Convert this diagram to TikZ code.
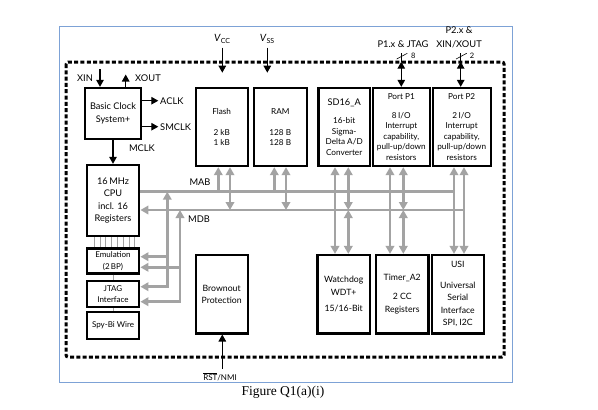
\documentclass[tikz,border=0pt]{standalone}
\usepackage{fontspec}
\setmainfont{Lato}
\newfontfamily\capfont{Liberation Serif}
\usetikzlibrary{calc,arrows.meta}
\definecolor{busgray}{HTML}{A3A3A3}
\definecolor{frameblue}{HTML}{7DA2D6}
\tikzset{
  bt/.tip={Triangle[length=8pt,width=8.5pt]},
  sg/.tip={Triangle[length=7pt,width=7.5pt]},
  blk/.style={draw,line width=2.3pt,align=center,inner sep=0pt,font=\fontsize{8.2}{10.5}\selectfont},
  bus/.style={draw=busgray,line width=2.6pt},
  sig/.style={line width=1.2pt,-sg},
  lbl/.style={font=\fontsize{9.3}{10}\selectfont,inner sep=0pt},
}

\begin{document}
\begin{tikzpicture}[x=1pt,y=-1pt]
  \useasboundingbox (0,0) rectangle (598,410);
  \draw[frameblue,line width=0.9pt] (59,26) rectangle (512,382);
  \draw[line width=3pt,dash pattern=on 4pt off 2.3pt,rounded corners=2pt] (66,62) rectangle (504,357);

  % left column
  \node[blk,minimum width=56,minimum height=51,font=\fontsize{9.2}{13}\selectfont] (clk) at (113,113.5) {Basic Clock\\System+};
  \node[blk,minimum width=52.5,minimum height=71,font=\fontsize{9.2}{12.5}\selectfont] (cpu) at (113,200.5) {16\,MHz\\CPU\\incl. 16\\Registers};
  \node[blk,minimum width=52.5,minimum height=25,font=\fontsize{8}{11.5}\selectfont] (emu) at (113,261) {Emulation\\(2\,BP)};
  \node[blk,minimum width=52.5,minimum height=25.7,font=\fontsize{8}{11}\selectfont] (jtag) at (113,294) {JTAG\\Interface};
  \node[blk,minimum width=52.5,minimum height=27.6,font=\fontsize{8}{11}\selectfont] (spy) at (113,325.5) {Spy-Bi Wire};

  % top row
  \node[blk,minimum width=52,minimum height=78] (flash) at (221.7,127) {Flash\\ \\2 kB\\1 kB};
  \node[blk,minimum width=52.7,minimum height=78] (ram) at (280.3,127) {RAM\\ \\128 B\\128 B};
  \node[blk,minimum width=51.7,minimum height=78] (sd) at (344.2,127) {{\fontsize{9.2}{10.5}\selectfont SD16\_A}\\[8pt]16-bit\\Sigma-\\Delta A/D\\Converter};
  \node[blk,minimum width=57.3,minimum height=78] (p1) at (401.3,127) {Port P1\\[8pt]8\,I/O\\Interrupt\\capability,\\pull-up/down\\resistors};
  \node[blk,minimum width=58,minimum height=78] (p2) at (461.7,127) {Port P2\\[8pt]2\,I/O\\Interrupt\\capability,\\pull-up/down\\resistors};

  % bottom row
  \node[blk,minimum width=52,minimum height=78.3,font=\fontsize{8.7}{12.5}\selectfont] (bor) at (221.7,294.2) {Brownout\\Protection};
  \node[blk,minimum width=52.7,minimum height=78.3,font=\fontsize{8.7}{13}\selectfont] (wdt) at (343.7,294.2) {Watchdog\\WDT+\\[3pt]15/16-Bit};
  \node[blk,minimum width=52.3,minimum height=78.3,font=\fontsize{8.7}{13}\selectfont] (tmr) at (402.2,294.2) {Timer\_A2\\[6pt]2 CC\\Registers};
  \node[blk,minimum width=52.3,minimum height=78.3,font=\fontsize{8.7}{12.5}\selectfont] (usi) at (457.8,294.2) {USI\\[8pt]Universal\\Serial\\Interface\\SPI, I2C};

  % buses
  \coordinate (mab) at (139,191.7);
  \coordinate (mabend) at (454,191.7);
  \coordinate (mdb) at (139,210);
  \coordinate (mdbend) at (464,210);
  \draw[bus] (cpu.east |- mab) -- (mabend);
  \draw[bus,-bt] (mdbend) -- (cpu.east |- mdb);
  \node[lbl] (mabl) at (200,181.7) {MAB};
  \node[lbl] (mdbl) at (199,219.3) {MDB};

  \draw[bus,bt-] (218.3,0 |- flash.south) -- (218.3,0 |- mab);
  \draw[bus,bt-bt] (230,0 |- flash.south) -- (230,0 |- mdb);
  \draw[bus,bt-] (274.3,0 |- ram.south) -- (274.3,0 |- mab);
  \draw[bus,bt-bt] (286,0 |- ram.south) -- (286,0 |- mdb);
  \draw[bus,bt-bt] (335,0 |- sd.south) -- (335,0 |- wdt.north);
  \draw[bus,bt-bt] (348.3,0 |- sd.south) -- (348.3,0 |- mdb);
  \draw[bus,bt-bt] (348.3,0 |- mdb) -- (348.3,0 |- wdt.north);
  \draw[bus,bt-bt] (390,0 |- p1.south) -- (390,0 |- tmr.north);
  \draw[bus,bt-bt] (403.3,0 |- p1.south) -- (403.3,0 |- mdb);
  \draw[bus,bt-bt] (403.3,0 |- mdb) -- (403.3,0 |- tmr.north);
  \draw[bus,bt-bt] (454,0 |- p2.south) -- (454,0 |- usi.north);
  \draw[bus,bt-bt] (464,0 |- p2.south) -- (464,0 |- usi.north);

  % emulation and jtag taps
  \draw[bus,bt-bt] (167.3,0 |- mab) -- (167.3,286.7) -- (jtag.east |- 0,286.7);
  \draw[bus,-bt] (167.3,256.7) -- (emu.east |- 0,256.7);
  \draw[bus,bt-bt] (180,0 |- mdb) -- (180,301.7) -- (jtag.east |- 0,301.7);
  \draw[bus,-bt] (180,267.3) -- (emu.east |- 0,267.3);
  \foreach \i in {0,...,7}
    \draw[busgray,line width=0.7pt] (94.3+5.77*\i,0 |- cpu.south) -- (94.3+5.77*\i,0 |- emu.north);
  \draw[busgray,line width=0.7pt] (emu.south) -- (jtag.north);
  \draw[busgray,line width=0.7pt] (jtag.south) -- (spy.north);

  % clock signals
  \coordinate (xinsrc) at (100,69);
  \coordinate (xoutdst) at (125.7,74.5);
  \coordinate (aclk) at (158.3,100.7);
  \coordinate (smclk) at (158.3,126.7);
  \node[lbl] (xin) at (85,78) {XIN};
  \node[lbl,anchor=west] (xout) at (135,78) {XOUT};
  \draw[sig] (xinsrc) -- (xinsrc |- clk.north);
  \draw[sig] (xoutdst |- clk.north) -- (xoutdst);
  \draw[sig] (clk.east |- aclk) -- (aclk);
  \draw[sig] (clk.east |- smclk) -- (smclk);
  \node[lbl,anchor=west] (aclkl) at (160,100.7) {ACLK};
  \node[lbl,anchor=west] (smclkl) at (160,126.7) {SMCLK};
  \draw[sig] (clk.south) -- (cpu.north);
  \node[lbl] (mclk) at (142,148) {MCLK};

  % supply
  \coordinate (vccin) at (222.3,72.7);
  \coordinate (vssin) at (267.3,72.7);
  \node[lbl,font=\fontsize{10}{11}\selectfont] (vcc) at (222.3,39) {\textit{V}\textsubscript{CC}};
  \node[lbl,font=\fontsize{10}{11}\selectfont] (vss) at (267.3,39) {\textit{V}\textsubscript{SS}};
  \draw[sig,shorten <=4pt] (vccin |- vcc.south) -- (vccin);
  \draw[sig,shorten <=4pt] (vssin |- vss.south) -- (vssin);

  % ports
  \coordinate (p1top) at (401.3,53);
  \coordinate (p1pin) at (401.3,61.7);
  \coordinate (p2top) at (460.7,53);
  \coordinate (p2pin) at (460.7,61.7);
  \draw[line width=1.2pt] (p1top) -- (p1pin);
  \draw[line width=1.2pt,sg-sg] (p1pin) -- (p1.north);
  \draw[line width=1.2pt] (p2top) -- (p2pin);
  \draw[line width=1.2pt,sg-sg] (p2pin) -- (p2.north -| p2pin);
  \draw[line width=0.6pt] (396.7,59) -- (407.3,53.3);
  \draw[line width=0.6pt] (456.1,59) -- (466.7,53.3);
  \node[font=\fontsize{7.5}{8}\selectfont,inner sep=0pt] (n8) at (413.3,55.7) {8};
  \node[font=\fontsize{7.5}{8}\selectfont,inner sep=0pt] (n2) at (472,55.7) {2};
  \node[lbl] (p1l) at (403,44) {P1.x \& JTAG};
  \node[lbl,align=center,font=\fontsize{9.3}{14}\selectfont] (p2l) at (459,37) {P2.x \&\\XIN/XOUT};

  % reset
  \coordinate (rst) at (222.3,368.5);
  \draw[sig] (rst) -- (rst |- bor.south);
  \node[lbl,font=\fontsize{8}{9}\selectfont] (rstl) at (220,377) {$\overline{\mbox{RST}}$/NMI};

  \node[font=\capfont\fontsize{13.5}{15}\selectfont] (cap) at (283,392) {Figure Q1(a)(i)};
\end{tikzpicture}
\end{document}
